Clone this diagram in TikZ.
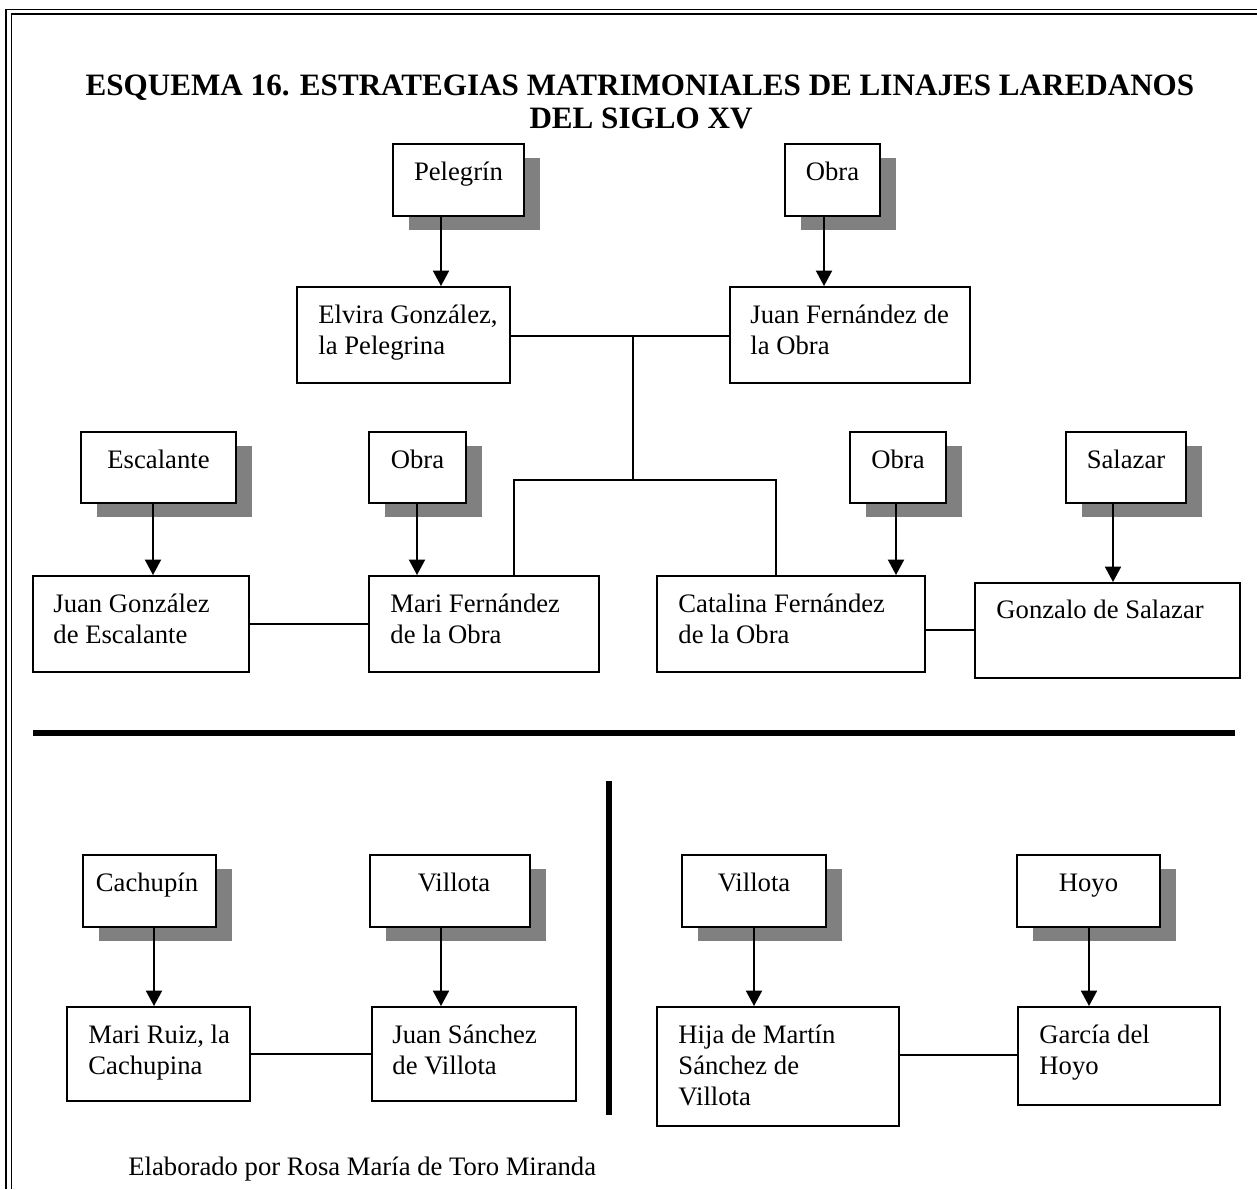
\documentclass[tikz,border=0pt]{standalone}
\usepackage{fontspec}
\setmainfont{Liberation Serif}
\usetikzlibrary{arrows.meta,fit,shadows}
\definecolor{shgray}{HTML}{808080}
\begin{document}
\begin{tikzpicture}[x=0.45pt,y=-0.45pt,
  box/.style={draw, line width=0.85pt, fill=white, inner sep=0pt},
  sbox/.style={box, drop shadow={shadow xshift=7.2pt, shadow yshift=-6.3pt, fill=shgray, opacity=1}},
  % multi-line labels are placed by the baseline of their last line
  lbl/.style={inner sep=0pt, font=\fontsize{12}{13.8}\selectfont, align=left, anchor=base west},
  clbl/.style={inner sep=0pt, font=\fontsize{12}{13.8}\selectfont, anchor=base},
  ttl/.style={inner sep=0pt, font=\fontsize{14}{16}\selectfont\bfseries, anchor=base},
  arr/.style={line width=1pt, -{Triangle[width=7.2pt,length=7pt]}},
  link/.style={line width=0.7pt},
  sep/.style={line width=2.7pt},
  frame/.style={line width=0.8pt}]
\useasboundingbox (0,0) rectangle (1257,1189);

% page frame: double rule on the left and top
\draw[frame] (6,1189) -- (6,9.5) -- (1257,9.5);
\draw[frame] (11.5,1189) -- (11.5,14) -- (1257,14);

% title
\node[ttl] (t1) at (640,95) {ESQUEMA 16. ESTRATEGIAS MATRIMONIALES DE LINAJES LAREDANOS};
\node[ttl] (t2) at (641,128) {DEL SIGLO XV};

% ---------- upper family tree ----------
\node[sbox, fit={(393,144) (524,216)}] (pel) {};
\node[clbl] (pelT) at (458.5,180) {Pelegrín};
\node[sbox, fit={(785,144) (880,216)}] (obraA) {};
\node[clbl] (obraAT) at (832.5,180) {Obra};

\node[box, fit={(297,287) (510,383)}] (elvira) {};
\node[lbl] (elviraT) at (318,354) {Elvira González,\\la Pelegrina};
\node[box, fit={(730,287) (970,383)}] (juanf) {};
\node[lbl] (juanfT) at (750,354) {Juan Fernández de\\la Obra};

\node[sbox, fit={(81,432) (236,503)}] (esc) {};
\node[clbl] (escT) at (158.5,468) {Escalante};
\node[sbox, fit={(369,432) (466,503)}] (obraB) {};
\node[clbl] (obraBT) at (417.5,468) {Obra};
\node[sbox, fit={(850,432) (946,503)}] (obraC) {};
\node[clbl] (obraCT) at (898,468) {Obra};
\node[sbox, fit={(1066,432) (1186,503)}] (sal) {};
\node[clbl] (salT) at (1126,468) {Salazar};

\node[box, fit={(33,576) (249,672)}] (juang) {};
\node[lbl] (juangT) at (53,643) {Juan González\\de Escalante};
\node[box, fit={(369,576) (599,672)}] (mari) {};
\node[lbl] (mariT) at (390,643) {Mari Fernández\\de la Obra};
\node[box, fit={(657,576) (925,672)}] (cata) {};
\node[lbl] (cataT) at (678,643) {Catalina Fernández\\de la Obra};
\node[box, fit={(975,583) (1240,678)}] (gonz) {};
\node[lbl] (gonzT) at (996,618) {Gonzalo de Salazar};

% descent arrows
\draw[arr] (pel.south -| 441,0) -- (elvira.north -| 441,0);
\draw[arr] (obraA.south -| 824,0) -- (juanf.north -| 824,0);
\draw[arr] (esc.south -| 153,0) -- (juang.north -| 153,0);
\draw[arr] (obraB.south -| 417,0) -- (mari.north -| 417,0);
\draw[arr] (obraC.south -| 896,0) -- (cata.north -| 896,0);
\draw[arr] (sal.south -| 1113,0) -- (gonz.north -| 1113,0);

% marriages and offspring
\coordinate (wed) at (633,336);
\coordinate (kids) at (633,480);
\coordinate (kidL) at (514,480);
\coordinate (kidR) at (776,480);
\draw[link] (elvira.east |- wed) -- (juanf.west |- wed);
\draw[link] (wed) -- (kids);
\draw[link] (mari.north -| kidL) -- (kidL) -- (kidR) -- (cata.north -| kidR);
\draw[link] (juang.east |- 0,624) -- (mari.west |- 0,624);
\draw[link] (cata.east |- 0,630) -- (gonz.west |- 0,630);

% separators
\coordinate (hsL) at (33,733);
\coordinate (hsR) at (1235,733);
\draw[sep] (hsL) -- (hsR);
\coordinate (vsT) at (609,781);
\coordinate (vsB) at (609,1115);
\draw[sep] (vsT) -- (vsB);

% ---------- lower left ----------
\node[sbox, fit={(83,855) (216,927)}] (cach) {};
\node[clbl] (cachT) at (147,891) {Cachupín};
\node[sbox, fit={(370,855) (530,927)}] (vilA) {};
\node[clbl] (vilAT) at (454,891) {Villota};
\node[box, fit={(67,1007) (250,1101)}] (mruiz) {};
\node[lbl] (mruizT) at (88,1074) {Mari Ruiz, la\\Cachupina};
\node[box, fit={(372,1007) (576,1101)}] (juans) {};
\node[lbl] (juansT) at (392,1074) {Juan Sánchez\\de Villota};
\draw[arr] (cach.south -| 154,0) -- (mruiz.north -| 154,0);
\draw[arr] (vilA.south -| 441,0) -- (juans.north -| 441,0);
\draw[link] (mruiz.east |- 0,1054) -- (juans.west |- 0,1054);

% ---------- lower right ----------
\node[sbox, fit={(682,855) (826,927)}] (vilB) {};
\node[clbl] (vilBT) at (754,891) {Villota};
\node[sbox, fit={(1017,855) (1160,927)}] (hoyo) {};
\node[clbl] (hoyoT) at (1088.5,891) {Hoyo};
\node[box, fit={(657,1007) (899,1126)}] (hija) {};
\node[lbl] (hijaT) at (678,1105) {Hija de Martín\\Sánchez de\\Villota};
\node[box, fit={(1018,1007) (1220,1105)}] (garcia) {};
\node[lbl] (garciaT) at (1039,1074) {García del\\Hoyo};
\draw[arr] (vilB.south -| 754,0) -- (hija.north -| 754,0);
\draw[arr] (hoyo.south -| 1089,0) -- (garcia.north -| 1089,0);
\draw[link] (hija.east |- 0,1055) -- (garcia.west |- 0,1055);

% credit line
\node[lbl] (credit) at (128,1175) {Elaborado por Rosa María de Toro Miranda};
\end{tikzpicture}
\end{document}
